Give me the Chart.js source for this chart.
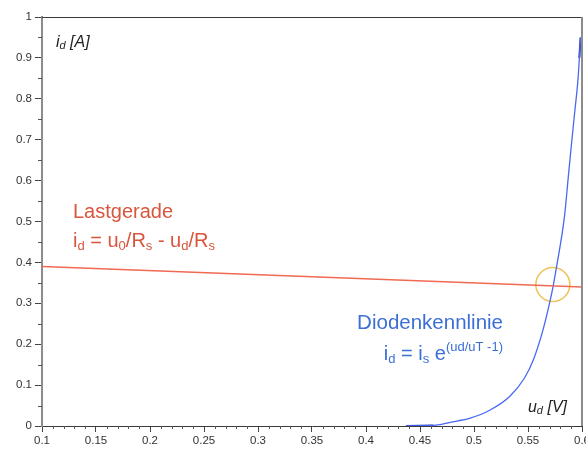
<!DOCTYPE html>
<html><head><meta charset="utf-8">
<script src="https://cdn.jsdelivr.net/npm/chart.js@4/dist/chart.umd.min.js"></script>
<style>html,body{margin:0;padding:0;background:#fff}#wrap{width:586px;height:451px}</style>
</head><body><div id="wrap"><canvas id="c" width="586" height="451"></canvas></div>
<script>
// ---- data ----
const xTickValues = [0.1, 0.15, 0.2, 0.25, 0.3, 0.35, 0.4, 0.45, 0.5, 0.55, 0.6];
const xTickLabels = ['0.1', '0.15', '0.2', '0.25', '0.3', '0.35', '0.4', '0.45', '0.5', '0.55', '0.6'];
const yTickValues = [0, 0.1, 0.2, 0.3, 0.4, 0.5, 0.6, 0.7, 0.8, 0.9, 1];
const yTickLabels = ['0', '0.1', '0.2', '0.3', '0.4', '0.5', '0.6', '0.7', '0.8', '0.9', '1'];

const lastgeradeU = [0.1, 0.6];
const lastgeradeI = [0.39, 0.34];

const diodeU = [0.437, 0.465, 0.478, 0.4965, 0.515, 0.533, 0.5469, 0.555, 0.5639, 0.570, 0.5732, 0.5763, 0.5839, 0.5871, 0.5901, 0.5932, 0.5963, 0.5987];
const diodeI = [0.0, 0.002, 0.009, 0.019, 0.039, 0.072, 0.118, 0.162, 0.235, 0.301, 0.341, 0.387, 0.515, 0.603, 0.685, 0.766, 0.848, 0.950];

const diodeLowU = [0.437, 0.462];
const diodeLowI = [0.0, 0.001];
const diodeTopU = [0.5975, 0.5987];
const diodeTopI = [0.90, 0.950];

const operatingPointU = [0.573];
const operatingPointI = [0.346];

const toPts = (xs, ys) => xs.map((x, i) => ({x: x, y: ys[i]}));

// ---- plugin for minor ticks, frame and annotations ----
function drawRuns(ctx, x, y, runs, align, color, family) {
  const parts = runs.map(r => {
    ctx.font = (r.italic ? 'italic ' : '') + r.size + 'px ' + family;
    return {r: r, w: ctx.measureText(r.t).width};
  });
  const total = parts.reduce((a, p) => a + p.w, 0);
  let cx = align === 'right' ? x - total : x;
  ctx.fillStyle = color;
  ctx.textAlign = 'left';
  ctx.textBaseline = 'alphabetic';
  parts.forEach(p => {
    ctx.font = (p.r.italic ? 'italic ' : '') + p.r.size + 'px ' + family;
    ctx.fillText(p.r.t, cx, y + (p.r.dy || 0));
    cx += p.w;
  });
}

const extras = {
  id: 'extras',
  afterDraw(chart) {
    const ctx = chart.ctx, a = chart.chartArea;
    const xs = chart.scales.x, ys = chart.scales.y;
    ctx.save();
    // frame top/right
    ctx.strokeStyle = '#3a3a3a'; ctx.lineWidth = 1;
    ctx.beginPath(); ctx.moveTo(a.left, a.top + 0.5); ctx.lineTo(a.right, a.top + 0.5); ctx.stroke();
    ctx.strokeStyle = '#8c8c8c'; ctx.lineWidth = 2;
    ctx.beginPath(); ctx.moveTo(a.right, a.top); ctx.lineTo(a.right, a.bottom); ctx.stroke();
    // minor ticks
    ctx.strokeStyle = '#555'; ctx.lineWidth = 1;
    ctx.beginPath();
    for (let k = 10; k <= 60; k++) {
      if (k % 5 === 0) continue;
      const px = Math.round(xs.getPixelForValue(k / 100)) + 0.5;
      ctx.moveTo(px, a.bottom); ctx.lineTo(px, a.bottom + 3);
    }
    for (let k = 0; k < 10; k++) {
      const py = Math.round(ys.getPixelForValue(k / 10 + 0.05)) + 0.5;
      ctx.moveTo(a.left - 4, py); ctx.lineTo(a.left, py);
    }
    ctx.stroke();

    const F = '"Liberation Sans", Arial, sans-serif';
    // axis titles
    drawRuns(ctx, 56, 47, [
      {t: 'i', size: 16, italic: true}, {t: 'd', size: 11, italic: true, dy: 2}, {t: ' [A]', size: 16, italic: true}
    ], 'left', '#222', F);
    drawRuns(ctx, 567, 412, [
      {t: 'u', size: 16, italic: true}, {t: 'd', size: 11, italic: true, dy: 2}, {t: ' [V]', size: 16, italic: true}
    ], 'right', '#222', F);

    // Lastgerade
    const red = '#d9553c';
    drawRuns(ctx, 73, 218, [{t: 'Lastgerade', size: 20}], 'left', red, F);
    drawRuns(ctx, 73, 247, [
      {t: 'i', size: 20}, {t: 'd', size: 13, dy: 3}, {t: ' = u', size: 20}, {t: '0', size: 13, dy: 3},
      {t: '/R', size: 20}, {t: 's', size: 13, dy: 3}, {t: ' - u', size: 20}, {t: 'd', size: 13, dy: 3},
      {t: '/R', size: 20}, {t: 's', size: 13, dy: 3}
    ], 'left', red, F);

    // Diodenkennlinie
    const blue = '#3b6fd6';
    drawRuns(ctx, 503, 329, [{t: 'Diodenkennlinie', size: 20.5}], 'right', blue, F);
    drawRuns(ctx, 503, 360, [
      {t: 'i', size: 20}, {t: 'd', size: 13, dy: 3}, {t: ' = i', size: 20}, {t: 's', size: 13, dy: 3},
      {t: ' e', size: 20}, {t: '(ud/uT -1)', size: 13, dy: -9}
    ], 'right', blue, F);
    ctx.restore();
  }
};

new Chart(document.getElementById('c'), {
  type: 'scatter',
  data: {
    datasets: [
      {
        label: 'Lastgerade', data: toPts(lastgeradeU, lastgeradeI), showLine: true,
        borderColor: '#f06a52', borderWidth: 1.6, pointRadius: 0, fill: false
      },
      {
        label: 'Diodenkennlinie', data: toPts(diodeU, diodeI), showLine: true,
        borderColor: '#4a68f2', borderWidth: 1.3, pointRadius: 0, fill: false,
        cubicInterpolationMode: 'monotone'
      },
      {
        label: 'low', data: toPts(diodeLowU, diodeLowI), showLine: true,
        borderColor: '#2036b8', borderWidth: 2, pointRadius: 0, fill: false
      },
      {
        label: 'top', data: toPts(diodeTopU, diodeTopI), showLine: true,
        borderColor: '#1a2aa8', borderWidth: 2, pointRadius: 0, fill: false
      },
      {
        label: 'Arbeitspunkt', data: toPts(operatingPointU, operatingPointI), showLine: false,
        pointRadius: 17, pointHoverRadius: 17, pointStyle: 'circle',
        borderColor: '#eec55c', borderWidth: 1.6, backgroundColor: 'rgba(0,0,0,0)'
      }
    ]
  },
  options: {
    responsive: false, animation: false, devicePixelRatio: 1,
    layout: {autoPadding: false, padding: {top: 17, right: 4, left: 0, bottom: 0}},
    plugins: {legend: {display: false}, tooltip: {enabled: false}},
    elements: {line: {tension: 0}},
    scales: {
      x: {
        type: 'linear', min: 0.1, max: 0.6,
        afterBuildTicks: s => { s.ticks = xTickValues.map(v => ({value: v})); },
        afterFit: s => { s.height = 25; s.paddingLeft = 0; s.paddingRight = 0; },
        ticks: {
          callback: (v, i) => xTickLabels[i],
          maxRotation: 0, autoSkip: false, padding: 2,
          color: '#333', font: {family: '"Liberation Sans", Arial, sans-serif', size: 11.5}
        },
        grid: {drawOnChartArea: false, drawTicks: true, tickLength: 6, tickColor: '#444', tickWidth: 1},
        border: {display: true, color: '#3a3a3a', width: 1}
      },
      y: {
        type: 'linear', min: 0, max: 1,
        afterBuildTicks: s => { s.ticks = yTickValues.map(v => ({value: v})); },
        afterFit: s => { s.width = 42; s.paddingTop = 0; s.paddingBottom = 0; },
        ticks: {
          callback: (v, i) => yTickLabels[i],
          autoSkip: false, padding: 3,
          color: '#333', font: {family: '"Liberation Sans", Arial, sans-serif', size: 11.5}
        },
        grid: {drawOnChartArea: false, drawTicks: true, tickLength: 7, tickColor: '#444', tickWidth: 1},
        border: {display: true, color: '#8c8c8c', width: 2}
      }
    }
  },
  plugins: [extras]
});
</script>
</body></html>
